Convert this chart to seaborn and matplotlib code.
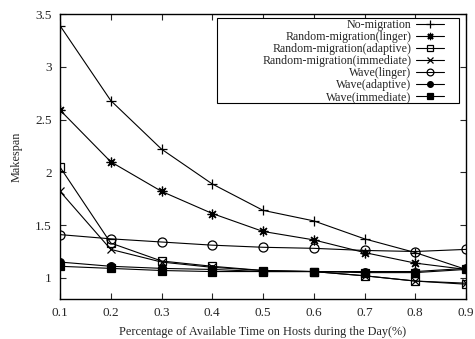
import matplotlib
matplotlib.use("Agg")
import matplotlib.pyplot as plt
from matplotlib.patches import Rectangle
import seaborn as sns
import pandas as pd

sns.set_style("ticks")
plt.rcParams['font.family'] = ['Liberation Serif', 'DejaVu Serif']

x = [0.1, 0.2, 0.3, 0.4, 0.5, 0.6, 0.7, 0.8, 0.9]
no_migration = [3.39, 2.68, 2.22, 1.89, 1.64, 1.54, 1.37, 1.24, 1.08]
random_linger = [2.59, 2.10, 1.82, 1.61, 1.44, 1.36, 1.24, 1.14, 1.08]
random_adaptive = [2.05, 1.33, 1.16, 1.11, 1.07, 1.06, 1.02, 0.97, 0.94]
random_immediate = [1.82, 1.27, 1.15, 1.10, 1.07, 1.06, 1.02, 0.97, 0.95]
wave_linger = [1.41, 1.37, 1.34, 1.31, 1.29, 1.28, 1.26, 1.25, 1.27]
wave_adaptive = [1.15, 1.11, 1.09, 1.08, 1.06, 1.06, 1.06, 1.06, 1.09]
wave_immediate = [1.11, 1.09, 1.07, 1.06, 1.06, 1.06, 1.05, 1.05, 1.08]

labels = ["No-migration", "Random-migration(linger)", "Random-migration(adaptive)",
          "Random-migration(immediate)", "Wave(linger)", "Wave(adaptive)", "Wave(immediate)"]
series = [no_migration, random_linger, random_adaptive, random_immediate,
          wave_linger, wave_adaptive, wave_immediate]
markers = ['+', (8, 2, 0), 's', 'x', 'o', 'o', 's']
fills = [True, True, False, True, False, True, True]
msizes = [7, 7, 5.5, 6, 6.5, 5.5, 5.5]

fig = plt.figure(figsize=(4.75, 3.39), dpi=100)
ax = fig.add_axes([60/475, 1 - 299/339, (466-60)/475, (299-14)/339])

for lab, ys, m, f, ms in zip(labels, series, markers, fills, msizes):
    df = pd.DataFrame({"x": x, "y": ys})
    sns.lineplot(data=df, x="x", y="y", ax=ax, color="black", linewidth=0.8,
                 marker=m, markersize=ms, markeredgecolor="black",
                 markerfacecolor=("black" if f else "none"), markeredgewidth=0.9,
                 label=lab)

ax.set_xlim(0.1, 0.9)
ax.set_ylim(0.8, 3.5)
ax.set_xticks(x)
ax.set_xticklabels([f"{v:g}" for v in x])
ax.set_yticks([1, 1.5, 2, 2.5, 3, 3.5])
ax.set_yticklabels(["1", "1.5", "2", "2.5", "3", "3.5"])
ax.tick_params(direction='in', top=True, right=True, labelsize=9.5, length=4, width=0.8, pad=6)
for s in ax.spines.values():
    s.set_linewidth(1.0)
    s.set_color("black")
ax.set_xlabel("Percentage of Available Time on Hosts during the Day(%)", fontsize=8.8, labelpad=5)
ax.set_ylabel("Makespan", fontsize=8.8, labelpad=9)

# legend frame (gnuplot-style wide key box)
ax.add_patch(Rectangle((0.387, 0.688), 0.596, 0.298, transform=ax.transAxes,
                       facecolor="white", edgecolor="black", linewidth=0.8, zorder=4))

leg = ax.legend(loc='upper right', bbox_to_anchor=(0.945, 0.983), markerfirst=False,
                fontsize=8.6, frameon=False, labelspacing=0.0, borderpad=0.0,
                handlelength=2.3, handletextpad=0.4, borderaxespad=0.0,
                markerscale=0.75)
leg.set_zorder(5)
for col in leg._legend_handle_box.get_children():
    col.align = "right"

fig.savefig("out.png", dpi=100)
